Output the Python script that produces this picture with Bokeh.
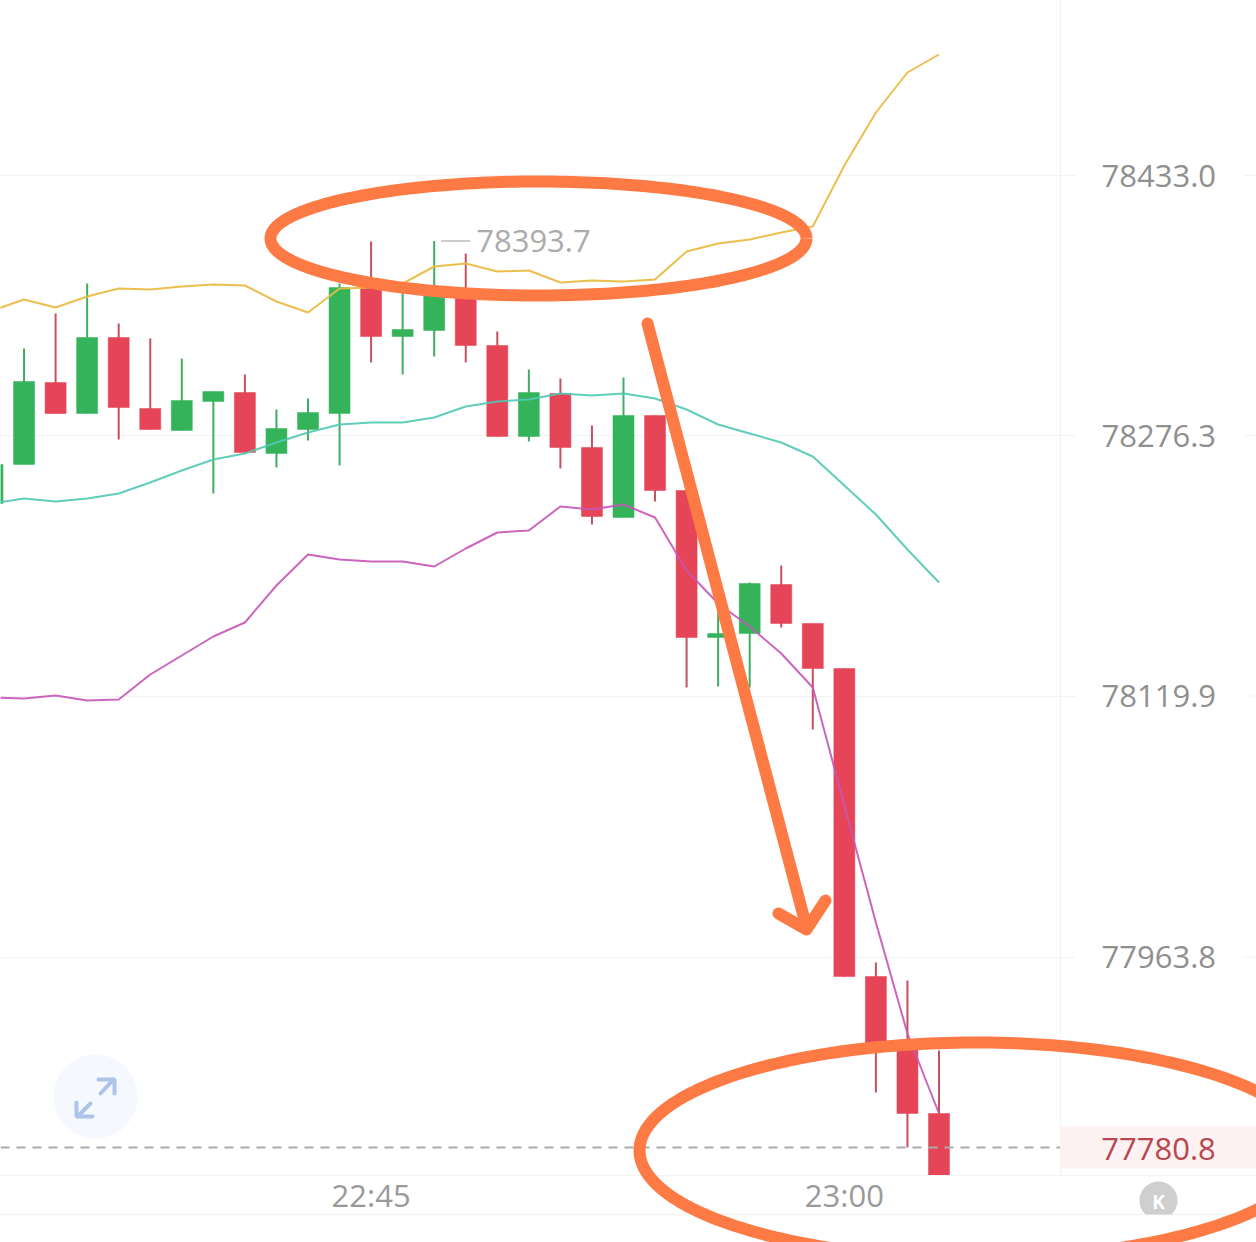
import numpy as np
from bokeh.core.properties import value
from bokeh.embed import file_html
from bokeh.layouts import column
from bokeh.models import ColumnDataSource, FixedTicker, Range1d, Span
from bokeh.plotting import figure
from bokeh.resources import INLINE

# ---- data (prices per one-minute candle) ----
opens = [78236.2, 78259.6, 78308.8, 78290.2, 78335.8, 78293.2, 78280.0, 78297.4, 78302.8, 78266.2, 78280.6,
         78290.2, 78365.8, 78336.4, 78340.0, 78359.8, 78331.0, 78276.4, 78302.2, 78269.8, 78227.8,
         78289.0, 78244.0, 78155.8, 78158.2, 78187.6, 78164.2, 78137.2, 77952.4, 77909.2, 77870.2]
closes = [78259.6, 78309.4, 78290.2, 78335.8, 78293.8, 78280.6, 78298.0, 78303.4, 78266.8, 78281.2, 78290.8,
          78365.8, 78336.4, 78340.6, 78362.8, 78331.0, 78276.4, 78302.8, 78269.8, 78228.4, 78289.0,
          78244.0, 78155.8, 78158.2, 78188.2, 78164.2, 78137.2, 77952.4, 77909.2, 77870.2, 77833.0]
highs = [78259.6, 78329.2, 78350.2, 78368.2, 78344.2, 78335.2, 78323.2, 78303.4, 78313.6, 78292.6, 78299.2,
         78368.2, 78393.4, 78367.0, 78393.7, 78386.2, 78339.4, 78316.6, 78311.2, 78283.0, 78311.8,
         78289.0, 78244.0, 78175.0, 78188.8, 78199.0, 78164.2, 78137.2, 77960.8, 77950.0, 77908.0]
lows = [78236.2, 78259.6, 78290.2, 78290.2, 78274.6, 78280.6, 78280.0, 78242.2, 78266.8, 78257.8, 78274.0,
        78259.0, 78320.8, 78313.6, 78324.4, 78320.8, 78276.4, 78273.4, 78257.2, 78223.6, 78227.8,
        78237.4, 78125.8, 78126.4, 78125.8, 78161.8, 78100.6, 77952.4, 77882.8, 77849.8, 77833.0]
upper_band = [78352.0, 78358.6, 78353.8, 78360.4, 78365.2, 78364.6, 78366.4, 78367.6, 78367.0, 78357.4, 78350.8,
              78365.2, 78365.8, 78368.2, 78378.4, 78380.2, 78375.4, 78376.0, 78368.8, 78370.0, 78369.4,
              78370.6, 78387.4, 78392.2, 78394.6, 78398.8, 78402.4, 78439.0, 78470.8, 78494.8, 78505.6]
middle_band = [78236.2, 78239.2, 78237.4, 78239.2, 78242.2, 78248.8, 78256.0, 78262.6, 78266.2, 78272.8, 78278.8,
               78283.6, 78284.8, 78284.8, 78287.8, 78294.4, 78297.4, 78298.6, 78302.2, 78301.0, 78302.2,
               78299.2, 78292.6, 78283.6, 78278.2, 78272.8, 78264.4, 78247.0, 78229.6, 78208.6, 78188.8]
lower_band = [78119.8, 78119.2, 78121.0, 78118.0, 78118.6, 78133.6, 78145.0, 78156.4, 78164.8, 78187.0, 78205.6,
              78202.6, 78201.4, 78201.4, 78198.4, 78209.2, 78218.8, 78220.0, 78234.4, 78232.6, 78235.6,
              78227.8, 78196.0, 78176.2, 78162.4, 78146.2, 78125.8, 78055.0, 77984.8, 77918.2, 77870.2]
price_ticks = [78433.0, 78277.0, 78120.7, 77964.1]
price_labels = ["78433.0", "78276.3", "78119.9", "77963.8"]
time_ticks = [12, 27]
time_labels = ["22:45", "23:00"]
peak_label = "78393.7"
last_label = "77780.8"
last_level = 77849.8

GREEN, RED = "#35B35A", "#E54556"
GREEN_W, RED_W = "#3FAE60", "#C4515F"
ORANGE = "#FE7A45"
GRID = "#F3F3F3"
FONT = "Open Sans"

x = list(range(len(opens)))
up = [c >= o for o, c in zip(opens, closes)]
src = ColumnDataSource(dict(
    x=x, top=[max(o, c) for o, c in zip(opens, closes)], bottom=[min(o, c) for o, c in zip(opens, closes)],
    high=highs, low=lows,
    body=[GREEN if u else RED for u in up], wick=[GREEN_W if u else RED_W for u in up],
))

# ---------------- the chart ----------------
p = figure(width=1256, height=1242, output_backend="svg", toolbar_location=None,
           x_range=Range1d(8 / 31.55, 1068 / 31.55), y_range=Range1d(77833.0, 78538.0),
           y_axis_location="right", min_border_left=0, min_border_top=0,
           min_border_right=196, min_border_bottom=67, frame_align=False,
           background_fill_color="white", border_fill_color="white", outline_line_color=None)

p.xgrid.visible = False
p.ygrid.ticker = FixedTicker(ticks=price_ticks)
p.ygrid.grid_line_color = GRID
p.ygrid.grid_line_width = 1

ya = p.yaxis[0]
ya.ticker = FixedTicker(ticks=price_ticks)
ya.major_label_overrides = dict(zip(price_ticks, price_labels))
ya.major_tick_in = 0
ya.major_tick_out = 15
ya.major_tick_line_color = GRID
ya.minor_tick_line_color = None
ya.axis_line_color = GRID
ya.major_label_standoff = 26
ya.major_label_text_font = FONT
ya.major_label_text_font_size = "31px"
ya.major_label_text_color = "#8F8F8F"

xa = p.xaxis[0]
xa.ticker = FixedTicker(ticks=time_ticks)
xa.major_label_overrides = dict(zip(time_ticks, time_labels))
xa.major_tick_in = 0
xa.major_tick_out = 0
xa.major_tick_line_color = None
xa.minor_tick_line_color = None
xa.axis_line_color = GRID
xa.major_label_standoff = -2
xa.major_label_text_font = FONT
xa.major_label_text_font_size = "31px"
xa.major_label_text_color = "#9A9A9A"

# candles
p.segment("x", "high", "x", "low", source=src, line_color="wick", line_width=2)
p.vbar("x", 0.666, "top", "bottom", source=src, fill_color="body", line_color="body", line_width=0.5)

# bands
p.line(x, upper_band, line_color="#E9BC45", line_width=2, line_alpha=0.95)
p.line(x, middle_band, line_color="#50C8B4", line_width=2, line_alpha=0.9)
p.line(x, lower_band, line_color="#C654B6", line_width=2, line_alpha=0.9)

# peak marker
p.text([14], [78393.7], text=[peak_label], x_offset=42, text_align="left", text_baseline="middle",
       text_font=value(FONT), text_font_size="31px", text_color="#ABABAB")
p.segment([14.22], [78393.7], [15.14], [78393.7], line_color="#BDBDBD", line_width=1.5)

# last price line
p.add_layout(Span(location=last_level, dimension="width", line_color="#ABABAB", line_width=2, line_dash="9 7"))

# ---------------- transparent overlay in picture pixels ----------------
q = figure(width=1256, height=1242, output_backend="svg", toolbar_location=None,
           x_range=Range1d(0, 1256), y_range=Range1d(1242, 0),
           x_axis_location=None, y_axis_location=None, min_border=0, frame_align=False,
           background_fill_color=None, border_fill_color=None, outline_line_color=None,
           margin=(-1242, 0, 0, 0))
q.grid.visible = False

t = np.linspace(0, 2 * np.pi, 240)

# expand button
q.patch(95 + 42 * np.cos(t), 1096 + 42 * np.sin(t), fill_color="#F5F9FF", line_color=None)
q.multi_line([[100, 113], [98, 114, 114], [90, 77], [76, 76, 92]],
             [[1093, 1079], [1079, 1079, 1093], [1103, 1116], [1102, 1116, 1116]],
             line_color="#ADC3EA", line_width=4, line_cap="round")

# last-price tag
q.quad(left=[1060], right=[1256], top=[1126], bottom=[1168], fill_color="#FDF1F1", line_color=None)
q.text([1158], [1148], text=[last_label], text_align="center", text_baseline="middle",
       text_font=value(FONT), text_font_size="31px", text_color="#B8474F")

# rules beyond the plot frame
q.segment([1060, 0], [1175, 1214], [1256, 1256], [1175, 1214], line_color=GRID, line_width=1.5)
q.segment([1243, 1243, 1243, 1243], [175, 435, 695.5, 956.5], [1256, 1256, 1256, 1256], [175, 435, 695.5, 956.5],
          line_color=GRID, line_width=1)

# K button
q.patch(1158 + 19 * np.cos(t), np.minimum(1200 + 19 * np.sin(t), 1214), fill_color="#CFCFCF", line_color=None)
q.text([1158], [1201], text=["K"], text_align="center", text_baseline="middle", text_font=value(FONT),
       text_font_style="bold", text_font_size="19px", text_color="white")

# hand-drawn orange marks
q.multi_line([[647, 806], [778, 806, 825]], [[323, 927], [913, 929, 900]],
             line_color=ORANGE, line_width=12, line_cap="round", line_join="round")
for cx, cy, rx, ry in [(538, 238, 268, 57), (975, 1150, 336, 108)]:
    q.line(cx + rx * np.cos(t), cy + ry * np.sin(t), line_color=ORANGE, line_width=12, line_join="round")

open("out.html", "w").write(file_html(column(p, q, spacing=0), INLINE))
